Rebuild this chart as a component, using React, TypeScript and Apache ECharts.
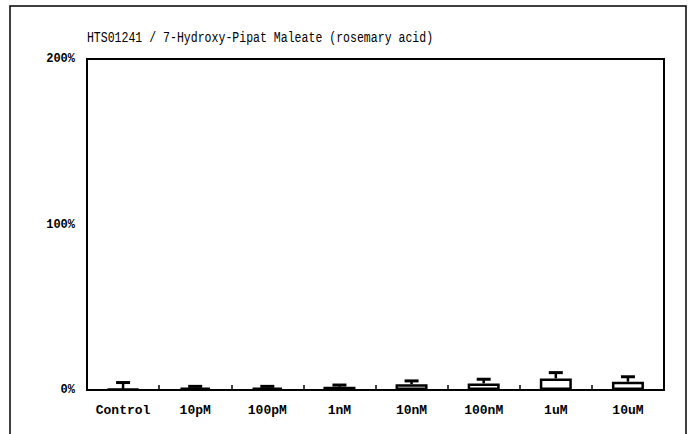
import React, { useEffect, useRef } from "react";
import * as echarts from "echarts";

const categories = ["Control", "10pM", "100pM", "1nM", "10nM", "100nM", "1uM", "10uM"];
const meanValues = [0.5, 1.5, 1.5, 2, 3.5, 4, 7, 5];
const upperValues = [4.5, 2.2, 2.2, 3, 5.5, 6.5, 10.5, 8];
const yTicks = [0, 100, 200];
const titleText = "HTS01241 / 7-Hydroxy-Pipat Maleate (rosemary acid)";

export default function App() {
  const ref = useRef<HTMLDivElement>(null);
  useEffect(() => {
    if (!ref.current) return;
    const chart = echarts.init(ref.current, null, { renderer: "svg" });
    const errData = categories.map((_, i) => [i, meanValues[i], upperValues[i]]);
    chart.setOption({
      animation: false,
      backgroundColor: "#ffffff",
      graphic: [
        {
          type: "rect",
          shape: { x: 10, y: 6, width: 676, height: 440 },
          style: { fill: "none", stroke: "#000", lineWidth: 1.5 },
          silent: true,
        },
        {
          type: "text",
          x: 260,
          y: 38,
          scaleX: 1.05,
          scaleY: 1.3,
          style: {
            text: titleText,
            fontFamily: "Liberation Mono",
            fontSize: 11,
            fill: "#000",
            align: "center",
            verticalAlign: "middle",
          },
        },
      ],
      grid: {
        left: 87,
        top: 59,
        right: 688 - 664,
        bottom: 434 - 390,
        show: true,
        borderColor: "#000",
        borderWidth: 2,
        backgroundColor: "transparent",
      },
      xAxis: {
        type: "category",
        data: categories,
        axisLine: { show: true, lineStyle: { color: "#000", width: 2 } },
        axisTick: { show: true, inside: true, length: 5, lineStyle: { color: "#000", width: 1.5 } },
        axisLabel: {
          color: "#000",
          fontFamily: "Liberation Mono",
          fontSize: 13,
          fontWeight: "bold",
          margin: 14,
        },
        splitLine: { show: false },
      },
      yAxis: {
        type: "value",
        min: 0,
        max: 200,
        interval: 100,
        axisLine: { show: true, lineStyle: { color: "#000", width: 2 } },
        axisTick: { show: false },
        splitLine: { show: false },
        axisLabel: {
          color: "#000",
          fontFamily: "Liberation Mono",
          fontSize: 12,
          fontWeight: "bold",
          margin: 12,
          formatter: (v: number) => (yTicks.includes(v) ? v + "%" : ""),
        },
      },
      series: [
        {
          type: "bar",
          data: meanValues,
          barWidth: 32,
          itemStyle: { color: "#fff", borderColor: "#000", borderWidth: 2.5 },
        },
        {
          type: "custom",
          data: errData,
          z: 5,
          renderItem: (params: any, api: any) => {
            const idx = api.value(0);
            const lo = api.coord([idx, api.value(1)]);
            const hi = api.coord([idx, api.value(2)]);
            const half = 7;
            return {
              type: "group",
              children: [
                {
                  type: "line",
                  shape: { x1: lo[0], y1: lo[1], x2: hi[0], y2: hi[1] },
                  style: { stroke: "#000", lineWidth: 2.5 },
                },
                {
                  type: "line",
                  shape: { x1: hi[0] - half, y1: hi[1], x2: hi[0] + half, y2: hi[1] },
                  style: { stroke: "#000", lineWidth: 3 },
                },
              ],
            };
          },
        },
      ],
    });
    return () => chart.dispose();
  }, []);
  return (
    <div
      ref={ref}
      style={{ position: "fixed", left: 0, top: 0, width: 688, height: 434 }}
    />
  );
}
